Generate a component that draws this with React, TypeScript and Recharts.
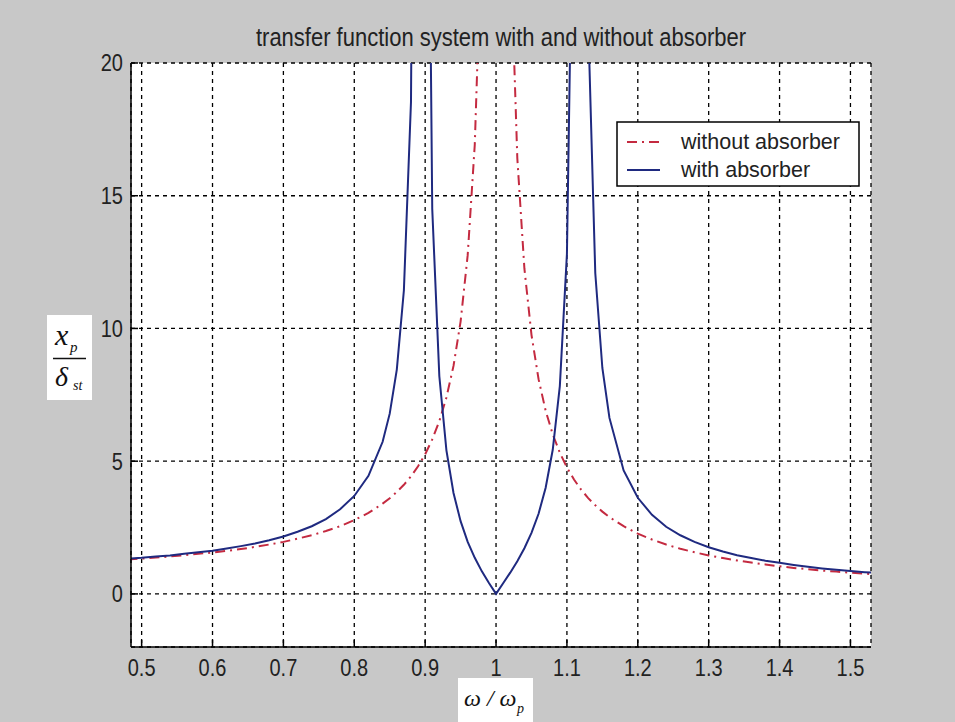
import React from "react";
import { CartesianGrid, Line, LineChart, XAxis, YAxis } from "recharts";

// frequency ratio ω/ωp
const RATIO = [
  0.48, 0.5, 0.52, 0.54, 0.56, 0.58, 0.6, 0.62, 0.64, 0.66, 0.68, 0.7, 0.72, 0.74, 0.76, 0.78, 0.8, 0.82, 0.84,
  0.85, 0.86, 0.87, 0.88, 0.89, 0.9, 0.91, 0.92, 0.93, 0.94, 0.95, 0.96, 0.97, 0.98, 0.99, 1.0, 1.01, 1.02, 1.03,
  1.04, 1.05, 1.06, 1.07, 1.08, 1.09, 1.1, 1.11, 1.12, 1.13, 1.14, 1.15, 1.16,
  1.18, 1.2, 1.22, 1.24, 1.26, 1.28, 1.3, 1.32, 1.34, 1.36, 1.38, 1.4, 1.42, 1.44, 1.46, 1.48, 1.5, 1.52, 1.54,
];

const WITHOUT_ABSORBER = [
  1.3, 1.33, 1.37, 1.41, 1.46, 1.51, 1.56, 1.62, 1.69, 1.77, 1.86, 1.96, 2.08, 2.21, 2.37, 2.55, 2.78, 3.05, 3.4,
  3.6, 3.84, 4.11, 4.43, 4.81, 5.26, 5.82, 6.51, 7.4, 8.59, 10.26, 12.76, 16.92, 25.25, 50.25, null, 49.75, 24.75,
  16.42, 12.26, 9.76, 8.09, 6.9, 6.01, 5.32, 4.76, 4.31, 3.93, 3.61, 3.34, 3.1, 2.89,
  2.55, 2.27, 2.05, 1.86, 1.7, 1.57, 1.45, 1.35, 1.26, 1.18, 1.11, 1.04, 0.98, 0.93, 0.88, 0.84, 0.8, 0.76, 0.73,
];

const WITH_ABSORBER = [
  1.33, 1.36, 1.41, 1.45, 1.51, 1.57, 1.63, 1.71, 1.8, 1.9, 2.02, 2.16, 2.34, 2.55, 2.82, 3.19, 3.69, 4.45, 5.73,
  6.79, 8.45, 11.44, 18.53, 57.5, 43.2, 14.5, 8.2, 5.41, 3.8, 2.74, 1.96, 1.36, 0.85, 0.41, 0, 0.4, 0.8, 1.23,
  1.72, 2.3, 3.02, 4.0, 5.43, 7.83, 12.8, 30.0, 127.3, 21.58, 12.09, 8.51, 6.63,
  4.65, 3.62, 2.98, 2.53, 2.21, 1.96, 1.76, 1.6, 1.46, 1.35, 1.25, 1.17, 1.09, 1.02, 0.96, 0.91, 0.86, 0.82, 0.78,
];

const X_TICKS = [0.5, 0.6, 0.7, 0.8, 0.9, 1, 1.1, 1.2, 1.3, 1.4, 1.5];
const Y_TICKS = [0, 5, 10, 15, 20];

const RED = "#c42a40";
const BLUE = "#1f2a80";
const FONT = "'Liberation Sans', Arial, sans-serif";
const SERIF = "'Liberation Serif', 'Times New Roman', serif";

const data = RATIO.map((r, i) => ({
  r,
  without: WITHOUT_ABSORBER[i],
  with: WITH_ABSORBER[i],
}));

function XTick({ x, y, payload }: any) {
  return (
    <text
      x={x}
      y={y}
      dy={13}
      textAnchor="middle"
      fontFamily={FONT}
      fontSize={20}
      fill="#222"
      transform={`translate(${x} ${y}) scale(1 1.2) translate(${-x} ${-y})`}
    >
      {payload.value}
    </text>
  );
}

function YTick({ x, y, payload }: any) {
  return (
    <text
      x={x}
      y={y}
      dy={7}
      textAnchor="end"
      fontFamily={FONT}
      fontSize={20}
      fill="#222"
      transform={`translate(${x} ${y}) scale(1 1.2) translate(${-x} ${-y})`}
    >
      {payload.value}
    </text>
  );
}

export default function App() {
  return (
    <div
      style={{
        position: "absolute",
        left: 0,
        top: 0,
        width: 955,
        height: 722,
        background: "#c8c8c8",
      }}
    >
      <LineChart
        width={955}
        height={722}
        data={data}
        margin={{ top: 63, right: 84, bottom: 35, left: 71 }}
      >
        <CartesianGrid
          fill="#fff"
          stroke="#000"
          strokeDasharray="4 4"
          strokeWidth={1.3}
        />
        <XAxis
          dataKey="r"
          type="number"
          domain={[0.485, 1.529]}
          ticks={X_TICKS}
          allowDataOverflow
          interval={0}
          height={40}
          tickSize={-7}
          tickMargin={20}
          tick={<XTick />}
          stroke="#000"
          strokeWidth={1.5}
        />
        <XAxis
          xAxisId="top"
          orientation="top"
          dataKey="r"
          type="number"
          domain={[0.485, 1.529]}
          ticks={X_TICKS}
          allowDataOverflow
          interval={0}
          height={0}
          tickSize={-7}
          tick={false}
          stroke="#000"
          strokeWidth={1.5}
        />
        <YAxis
          type="number"
          domain={[-2, 20]}
          ticks={Y_TICKS}
          allowDataOverflow
          interval={0}
          width={60}
          tickSize={-7}
          tickMargin={15}
          tick={<YTick />}
          stroke="#000"
          strokeWidth={1.5}
        />
        <YAxis
          yAxisId="right"
          orientation="right"
          type="number"
          domain={[-2, 20]}
          ticks={Y_TICKS}
          allowDataOverflow
          interval={0}
          width={0}
          tickSize={-7}
          tick={false}
          stroke="#000"
          strokeWidth={1.5}
        />
        <Line
          type="linear"
          dataKey="without"
          stroke={RED}
          strokeWidth={2}
          strokeDasharray="10 5 2 5"
          dot={false}
          connectNulls={false}
          isAnimationActive={false}
        />
        <Line
          type="linear"
          dataKey="with"
          stroke={BLUE}
          strokeWidth={2}
          dot={false}
          isAnimationActive={false}
        />
      </LineChart>

      <svg
        width={955}
        height={722}
        style={{ position: "absolute", left: 0, top: 0, pointerEvents: "none" }}
      >
        <text
          x={501}
          y={46}
          textAnchor="middle"
          fontFamily={FONT}
          fontSize={22}
          fill="#222"
          transform="translate(501 46) scale(1 1.18) translate(-501 -46)"
        >
          transfer function system with and without absorber
        </text>

        {/* legend */}
        <rect x={617} y={122} width={242} height={64} fill="#fff" stroke="#000" strokeWidth={1.5} />
        <line x1={627} x2={660} y1={142} y2={142} stroke={RED} strokeWidth={2} strokeDasharray="10 5 2 5" />
        <text x={681} y={149} fontFamily={FONT} fontSize={21.5} fill="#222">
          without absorber
        </text>
        <line x1={627} x2={660} y1={170} y2={170} stroke={BLUE} strokeWidth={2} />
        <text x={681} y={177} fontFamily={FONT} fontSize={21.5} fill="#222">
          with absorber
        </text>

        {/* y label */}
        <rect x={47} y={315} width={45} height={85} fill="#fff" />
        <text x={55} y={345} fontFamily={SERIF} fontStyle="italic" fontSize={30} fill="#111">
          x
        </text>
        <text x={70} y={352} fontFamily={SERIF} fontStyle="italic" fontSize={15} fill="#111">
          p
        </text>
        <line x1={53} x2={86} y1={358.5} y2={358.5} stroke="#111" strokeWidth={1.5} />
        <text x={55} y={386} fontFamily={SERIF} fontStyle="italic" fontSize={28} fill="#111">
          δ
        </text>
        <text x={73} y={390} fontFamily={SERIF} fontStyle="italic" fontSize={14} fill="#111">
          st
        </text>

        {/* x label */}
        <rect x={458} y={678} width={75} height={44} fill="#fff" />
        <text x={464} y={706} fontFamily={SERIF} fontStyle="italic" fontSize={24} fill="#111">
          ω / ω
        </text>
        <text x={517} y={713} fontFamily={SERIF} fontStyle="italic" fontSize={14} fill="#111">
          p
        </text>
      </svg>
    </div>
  );
}
